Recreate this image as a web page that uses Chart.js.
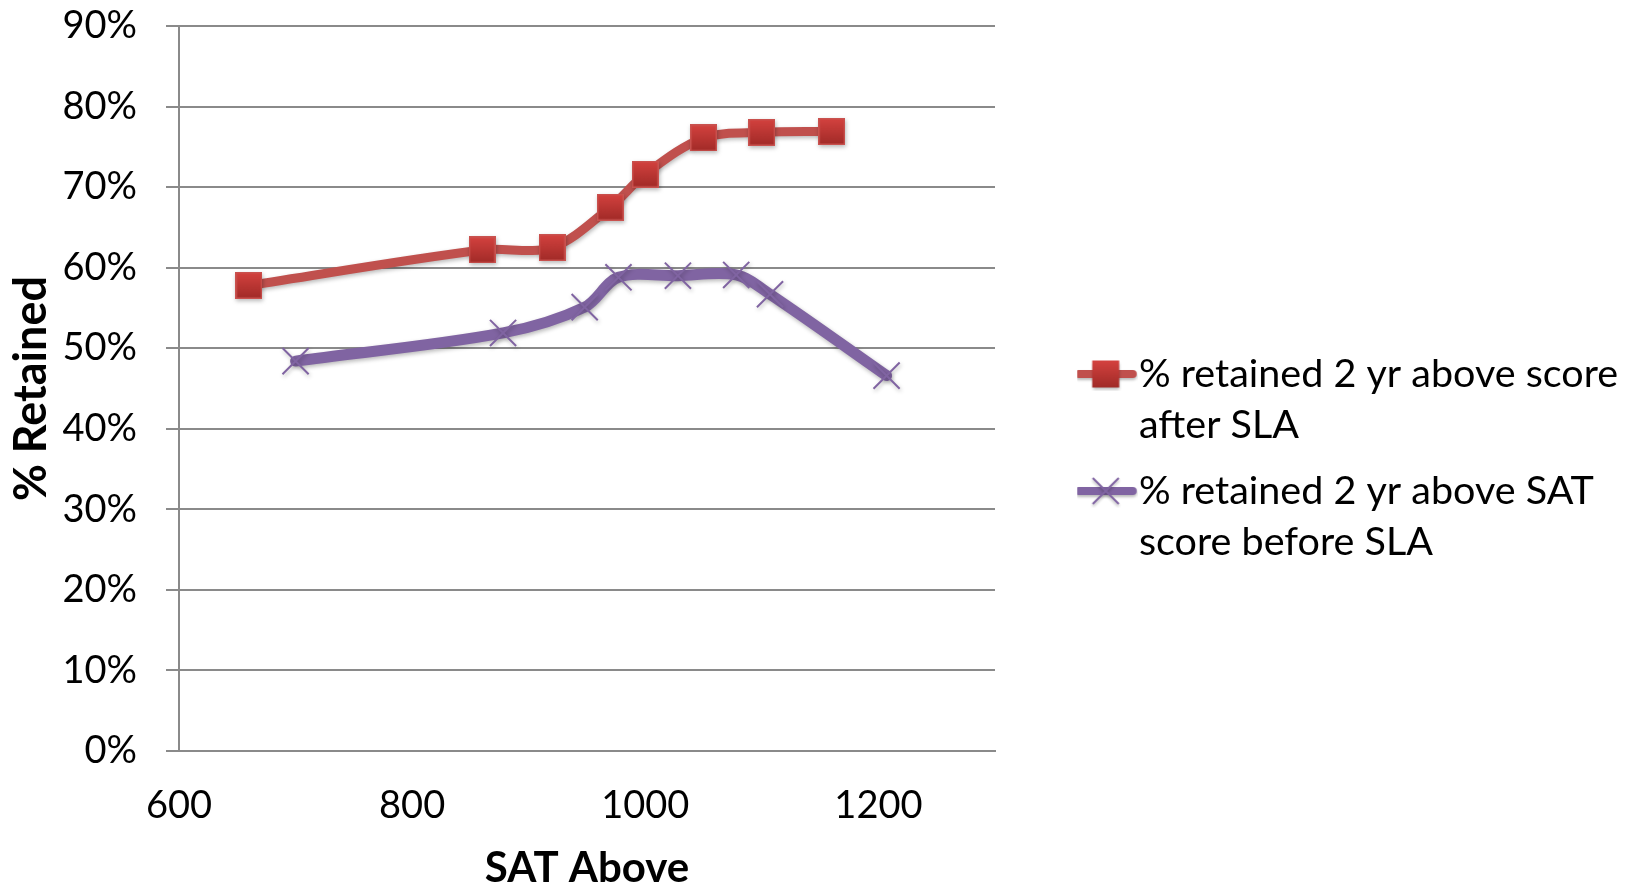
<!DOCTYPE html>
<html>
<head>
<meta charset="utf-8">
<title>% Retained by SAT score</title>
<script src="https://cdn.jsdelivr.net/npm/chart.js@4/dist/chart.umd.min.js"></script>
<style>
  html, body { margin: 0; padding: 0; background: #ffffff; }
  #wrap { position: relative; width: 1629px; height: 889px; }
</style>
</head>
<body>
<div id="wrap"><canvas id="chart" width="1629" height="889"></canvas></div>
<script>
// SAT score thresholds and the share of students retained two years later
const satAfter = [660, 860, 920, 970, 1000, 1050, 1100, 1160];
const retainedAfter = [57.8, 62.2, 62.5, 67.5, 71.6, 76.1, 76.8, 76.9];

const satBefore = [700, 878, 948, 977, 1028, 1078, 1107, 1207];
const retainedBefore = [48.4, 51.9, 55.1, 58.8, 59.0, 59.1, 56.7, 46.6];

const seriesNames = [
  ['% retained 2 yr above score', 'after SLA'],
  ['% retained 2 yr above SAT', 'score before SLA']
];

const xTickValues = [600, 800, 1000, 1200];
const yTickValues = [0, 10, 20, 30, 40, 50, 60, 70, 80, 90];

const FONT = "Lato, 'Open Sans', 'Liberation Sans', sans-serif";
const RED = '#C0504D';
const PURPLE = '#8064A2';
const GRID = '#8a8a8a';

// Bevelled red square used as the point marker
function squareMarker(size) {
  const c = document.createElement('canvas');
  c.width = size; c.height = size;
  const g = c.getContext('2d');
  const grad = g.createLinearGradient(0, 0, 0, size);
  grad.addColorStop(0, '#D4423F');
  grad.addColorStop(1, '#A02A27');
  g.fillStyle = grad;
  g.fillRect(0, 0, size, size);
  g.strokeStyle = '#C9524F';
  g.lineWidth = 1.5;
  g.strokeRect(0.75, 0.75, size - 1.5, size - 1.5);
  return c;
}

// Legend swatch: a short line segment with the series marker on top
function legendIcon(kind) {
  const w = 64, h = 34;
  const c = document.createElement('canvas');
  c.width = w; c.height = h;
  const g = c.getContext('2d');
  const cy = h / 2, cx = w / 2;
  g.shadowColor = 'rgba(0,0,0,0.28)';
  g.shadowBlur = 3;
  g.shadowOffsetY = 2;
  g.lineCap = 'round';
  g.lineWidth = 8;
  g.strokeStyle = kind === 'square' ? RED : PURPLE;
  g.beginPath(); g.moveTo(5, cy); g.lineTo(w - 5, cy); g.stroke();
  if (kind === 'square') {
    const s = 27;
    const grad = g.createLinearGradient(0, cy - s / 2, 0, cy + s / 2);
    grad.addColorStop(0, '#D4423F');
    grad.addColorStop(1, '#A02A27');
    g.fillStyle = grad;
    g.fillRect(cx - s / 2, cy - s / 2, s, s);
  } else {
    const r = 13;
    g.lineCap = 'butt';
    g.lineWidth = 2;
    g.beginPath();
    g.moveTo(cx - r, cy - r); g.lineTo(cx + r, cy + r);
    g.moveTo(cx - r, cy + r); g.lineTo(cx + r, cy - r);
    g.stroke();
  }
  return c;
}

const redSquare = squareMarker(27);
const legendIcons = [legendIcon('square'), legendIcon('cross')];

// Fixed plot frame
const AREA = { left: 179, top: 26, right: 995, bottom: 751 };
const LEGEND = { textX: 1139, firstLineY: 374, fontSize: 39.5, swatch: 27, padding: 15 };

const framePlugin = {
  id: 'frame',
  beforeLayout(chart) {
    const lg = chart.legend;
    if (lg && !lg._fixedWidth) {
      const fit = lg.fit;
      lg.fit = function () {
        fit.call(this);
        this.width = chart.width - AREA.right;
      };
      lg._fixedWidth = true;
    }
  },
  afterLayout(chart) {
    const lg = chart.legend;
    if (!lg) return;
    const itemX = LEGEND.textX - LEGEND.swatch - LEGEND.fontSize / 2;
    const left = itemX - LEGEND.padding;
    lg.right = left + lg.width;
    lg.left = left;
    lg.top = LEGEND.firstLineY - LEGEND.fontSize / 2 - LEGEND.padding;
    lg.bottom = chart.height;
  },
  beforeDatasetDraw(chart) {
    const ctx = chart.ctx;
    ctx.save();
    ctx.shadowColor = 'rgba(0,0,0,0.28)';
    ctx.shadowBlur = 4;
    ctx.shadowOffsetX = 1;
    ctx.shadowOffsetY = 2;
  },
  afterDatasetDraw(chart) {
    chart.ctx.restore();
  }
};

new Chart(document.getElementById('chart'), {
  type: 'line',
  data: {
    datasets: [
      {
        label: seriesNames[0].join(' '),
        data: satAfter.map((x, i) => ({ x, y: retainedAfter[i] })),
        borderColor: RED,
        backgroundColor: RED,
        borderWidth: 9,
        borderCapStyle: 'round',
        borderJoinStyle: 'round',
        tension: 0.33,
        pointStyle: redSquare,
        pointRadius: 14,
        fill: false
      },
      {
        label: seriesNames[1].join(' '),
        data: satBefore.map((x, i) => ({ x, y: retainedBefore[i] })),
        borderColor: PURPLE,
        backgroundColor: PURPLE,
        borderWidth: 11,
        borderCapStyle: 'round',
        borderJoinStyle: 'round',
        tension: 0.33,
        pointStyle: 'crossRot',
        pointRadius: 18.5,
        pointBorderWidth: 2,
        pointBorderColor: PURPLE,
        fill: false
      }
    ]
  },
  options: {
    responsive: false,
    animation: false,
    devicePixelRatio: 1,
    events: [],
    layout: { padding: { left: 0, top: AREA.top, right: 0, bottom: 0 } },
    scales: {
      x: {
        type: 'linear',
        min: 600,
        max: 1300,
        afterBuildTicks: s => { s.ticks = xTickValues.map(v => ({ value: v })); },
        afterFit: s => { s.height = 889 - AREA.bottom; },
        grid: { display: false, drawTicks: false },
        border: { display: true, color: GRID, width: 2 },
        ticks: {
          padding: 32,
          color: '#000',
          font: { family: FONT, size: 38 },
          maxRotation: 0,
          callback: v => String(v)
        },
        title: {
          display: true,
          text: 'SAT Above',
          color: '#000',
          font: { family: FONT, size: 42, weight: 'bold', lineHeight: 1 },
          padding: { top: 0, bottom: 0 }
        }
      },
      y: {
        min: 0,
        max: 90,
        afterBuildTicks: s => { s.ticks = yTickValues.map(v => ({ value: v })); },
        afterFit: s => {
          s.width = AREA.left;
          s.paddingTop = 0;
          s.paddingBottom = 0;
        },
        grid: { color: GRID, lineWidth: 2, tickLength: 13, drawTicks: true },
        border: { display: true, color: GRID, width: 2 },
        ticks: {
          padding: 29,
          color: '#000',
          font: { family: FONT, size: 38 },
          callback: v => v + '%'
        },
        title: {
          display: true,
          text: '% Retained',
          color: '#000',
          font: { family: FONT, size: 45, weight: 'bold', lineHeight: 1 },
          padding: { top: 9, bottom: 0 }
        }
      }
    },
    plugins: {
      tooltip: { enabled: false },
      legend: {
        display: true,
        position: 'right',
        align: 'start',
        labels: {
          usePointStyle: true,
          pointStyleWidth: LEGEND.swatch,
          padding: LEGEND.padding,
          color: '#000',
          textAlign: 'left',
          font: { family: FONT, size: LEGEND.fontSize, lineHeight: 51 / LEGEND.fontSize },
          generateLabels: chart => chart.data.datasets.map((ds, i) => ({
            text: seriesNames[i],
            pointStyle: legendIcons[i],
            datasetIndex: i,
            hidden: false,
            lineWidth: 0,
            fillStyle: 'rgba(0,0,0,0)',
            strokeStyle: 'rgba(0,0,0,0)'
          }))
        }
      }
    }
  },
  plugins: [framePlugin]
});
</script>
</body>
</html>
